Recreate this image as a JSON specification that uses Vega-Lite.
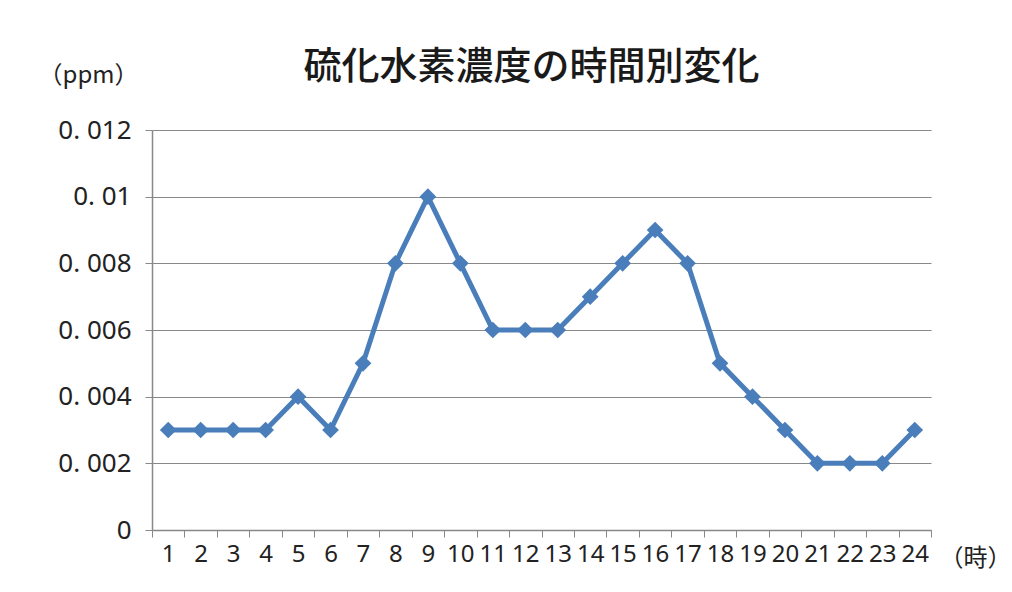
{
  "$schema": "https://vega.github.io/schema/vega-lite/v6.json",
  "autosize": "none",
  "width": 779,
  "height": 400,
  "padding": {"left": 152, "top": 130, "right": 81, "bottom": 62},
  "background": "white",
  "title": {
    "text": "硫化水素濃度の時間別変化",
    "font": "Noto Sans CJK JP",
    "fontSize": 38,
    "fontWeight": 500,
    "color": "#1a1a1a",
    "anchor": "middle",
    "dx": -10,
    "offset": -24
  },
  "data": {
    "values": [
      {"hour": 1, "ppm": 0.003},
      {"hour": 2, "ppm": 0.003},
      {"hour": 3, "ppm": 0.003},
      {"hour": 4, "ppm": 0.003},
      {"hour": 5, "ppm": 0.004},
      {"hour": 6, "ppm": 0.003},
      {"hour": 7, "ppm": 0.005},
      {"hour": 8, "ppm": 0.008},
      {"hour": 9, "ppm": 0.010},
      {"hour": 10, "ppm": 0.008},
      {"hour": 11, "ppm": 0.006},
      {"hour": 12, "ppm": 0.006},
      {"hour": 13, "ppm": 0.006},
      {"hour": 14, "ppm": 0.007},
      {"hour": 15, "ppm": 0.008},
      {"hour": 16, "ppm": 0.009},
      {"hour": 17, "ppm": 0.008},
      {"hour": 18, "ppm": 0.005},
      {"hour": 19, "ppm": 0.004},
      {"hour": 20, "ppm": 0.003},
      {"hour": 21, "ppm": 0.002},
      {"hour": 22, "ppm": 0.002},
      {"hour": 23, "ppm": 0.002},
      {"hour": 24, "ppm": 0.003}
    ]
  },
  "encoding": {
    "x": {
      "field": "hour",
      "type": "quantitative",
      "scale": {"domain": [0.5, 24.5], "nice": false, "zero": false},
      "axis": {
        "title": "（時）",
        "titleFont": "Noto Sans CJK JP",
        "titleFontSize": 24,
        "titleFontWeight": "normal",
        "titleColor": "#222",
        "titleAngle": 0,
        "titleAlign": "center",
        "titleBaseline": "middle",
        "titleX": 823,
        "titleY": 28,
        "values": [0.5, 1.5, 2.5, 3.5, 4.5, 5.5, 6.5, 7.5, 8.5, 9.5, 10.5, 11.5, 12.5, 13.5, 14.5, 15.5, 16.5, 17.5, 18.5, 19.5, 20.5, 21.5, 22.5, 23.5, 24.5],
        "labelExpr": "datum.value < 24 ? format(datum.value + 0.5, 'd') : ''",
        "labelOffset": 16.2,
        "labelFont": "Noto Sans",
        "labelFontSize": 24,
        "labelColor": "#222",
        "labelPadding": 5,
        "labelOverlap": false,
        "labelFlush": false,
        "grid": false,
        "tickSize": 7,
        "tickColor": "#888",
        "domainColor": "#888",
        "domainWidth": 1.5
      }
    },
    "y": {
      "field": "ppm",
      "type": "quantitative",
      "scale": {"domain": [0, 0.012], "nice": false},
      "axis": {
        "title": "（ppm）",
        "titleFont": "Noto Sans CJK JP",
        "titleFontSize": 24,
        "titleFontWeight": "normal",
        "titleColor": "#222",
        "titleAngle": 0,
        "titleAlign": "center",
        "titleBaseline": "middle",
        "titleX": -64,
        "titleY": -55,
        "values": [0, 0.002, 0.004, 0.006, 0.008, 0.01, 0.012],
        "labelExpr": "datum.value == 0 ? '0' : replace(format(datum.value, '.3~f'), '.', '. ')",
        "labelFont": "Noto Sans",
        "labelFontSize": 26,
        "labelColor": "#222",
        "labelPadding": 14,
        "grid": true,
        "gridColor": "#888",
        "gridWidth": 1.2,
        "tickSize": 7,
        "tickColor": "#888",
        "domainColor": "#888",
        "domainWidth": 1.5
      }
    }
  },
  "layer": [
    {
      "mark": {"type": "line", "color": "#4a7ebb", "strokeWidth": 5}
    },
    {
      "mark": {"type": "point", "shape": "diamond", "filled": true, "color": "#4a7ebb", "size": 280, "opacity": 1}
    }
  ],
  "config": {"view": {"stroke": null}}
}
